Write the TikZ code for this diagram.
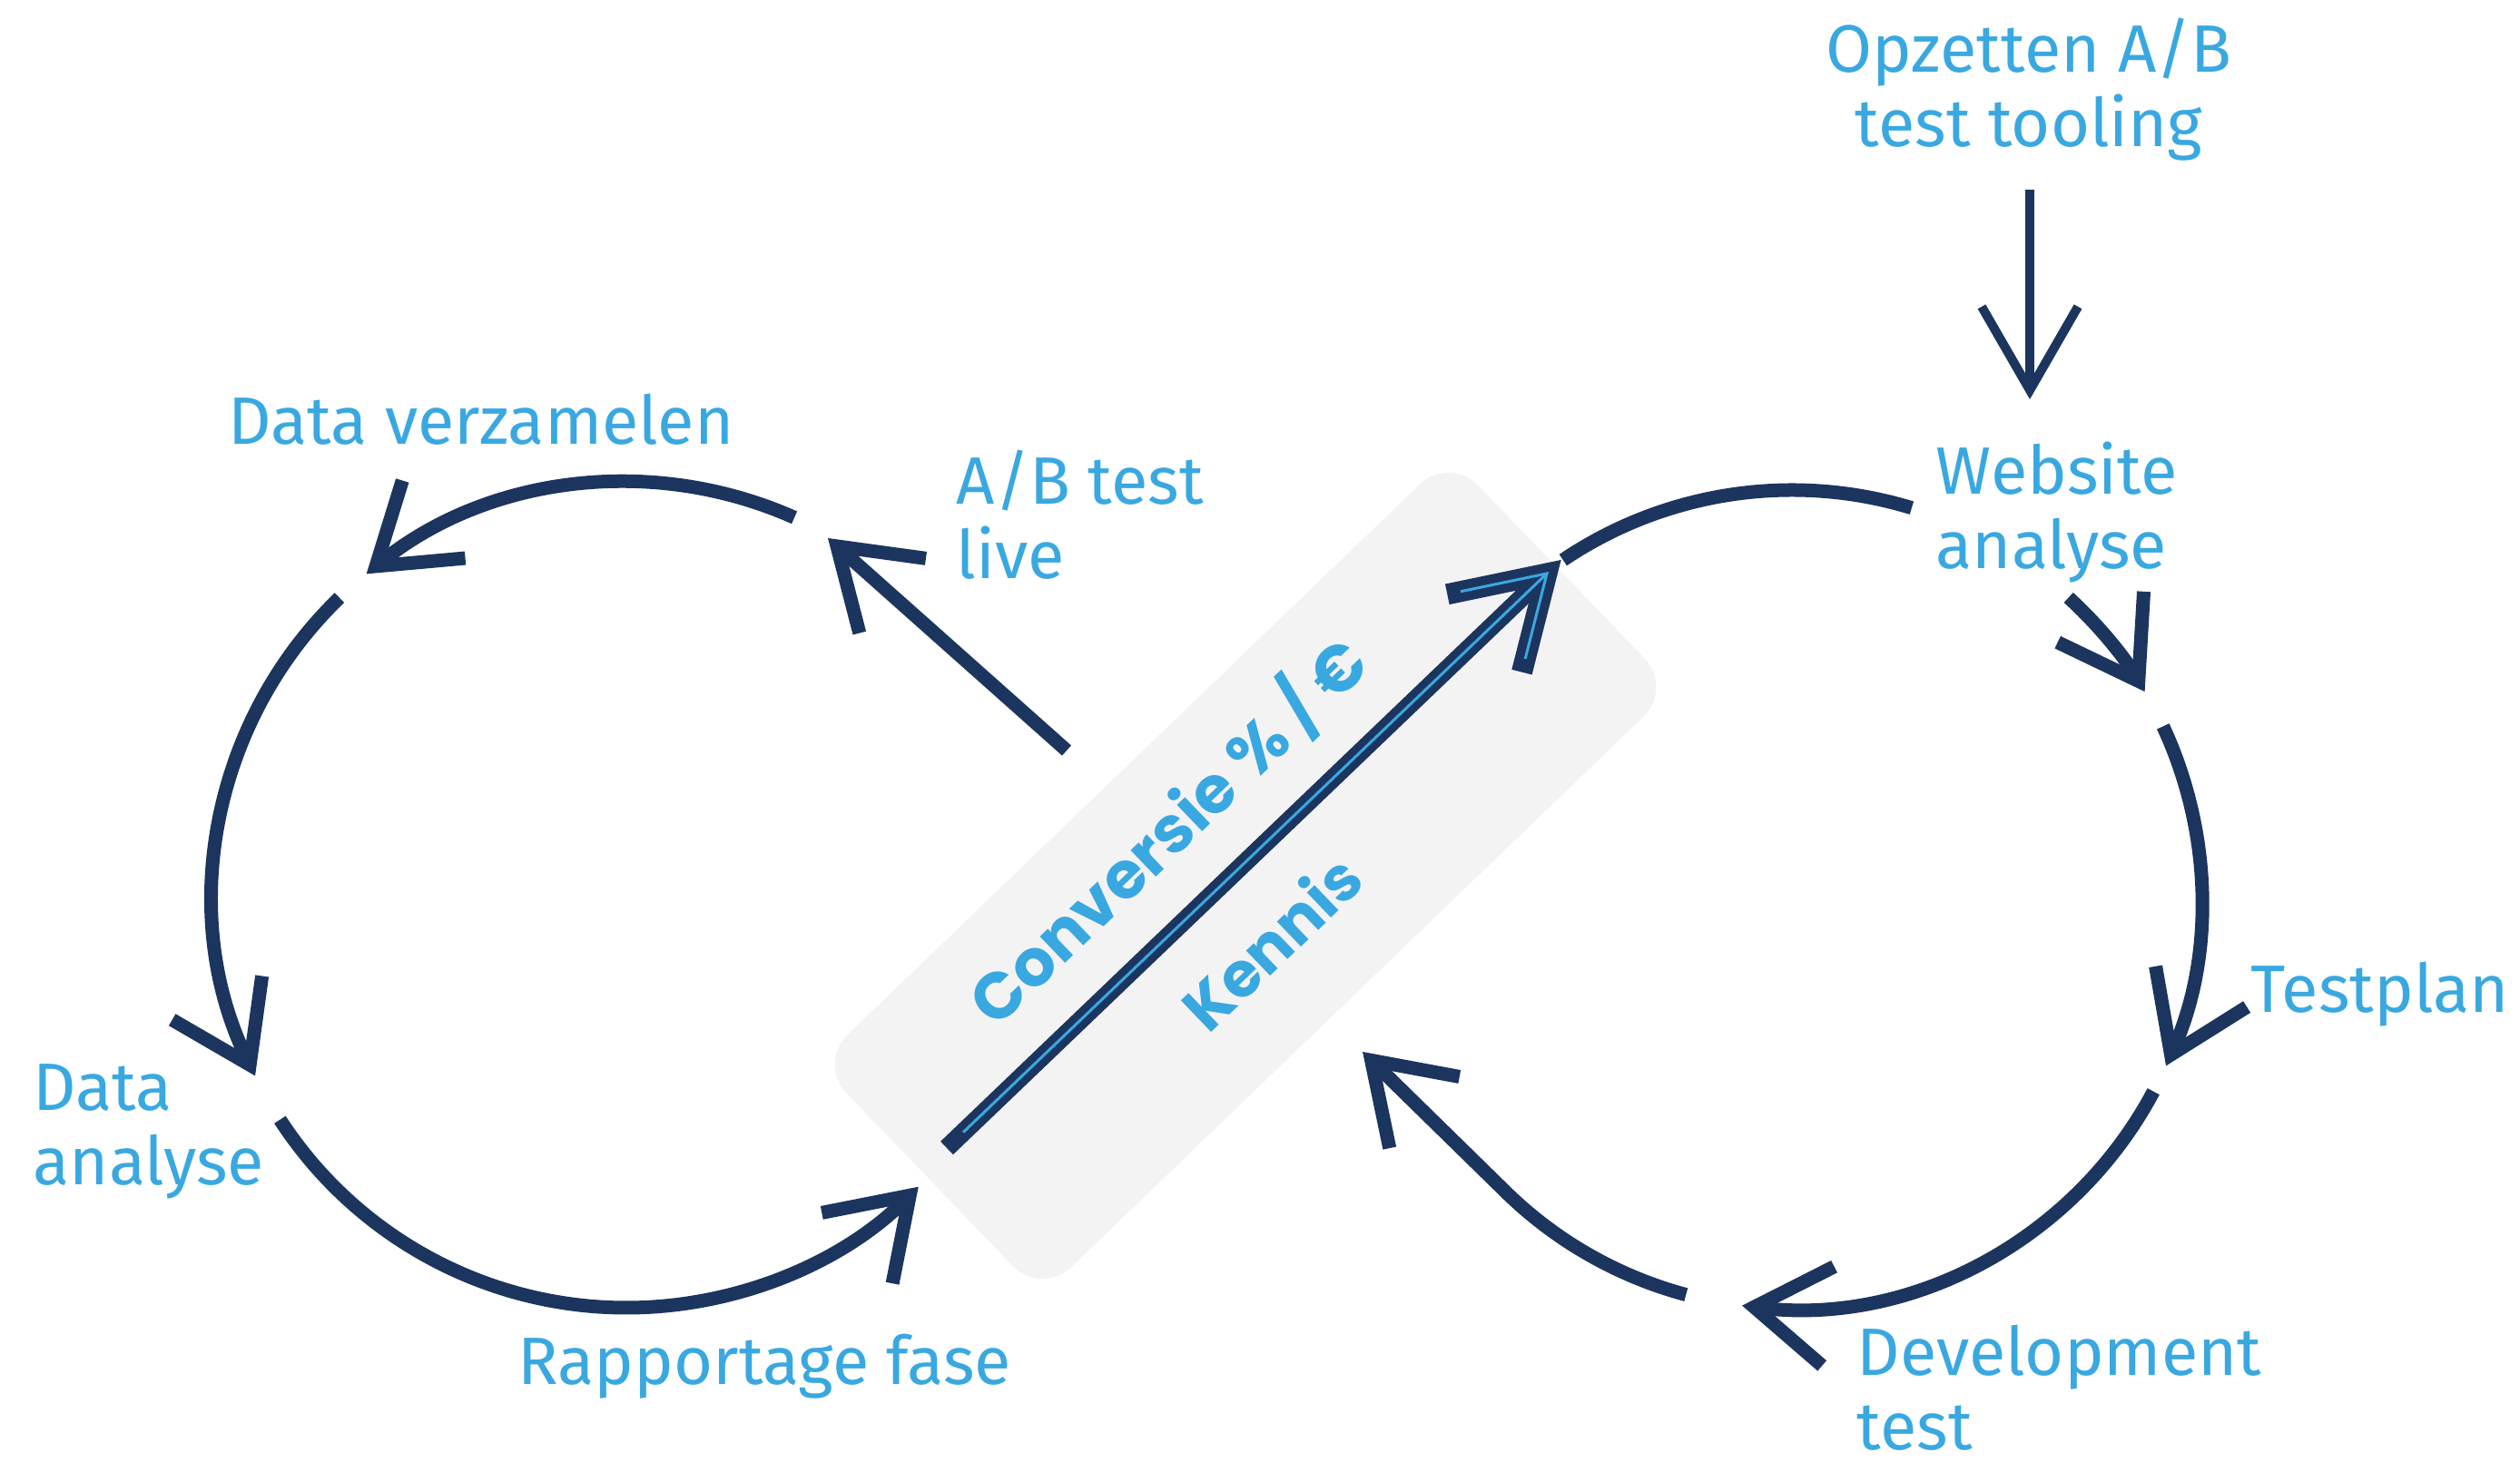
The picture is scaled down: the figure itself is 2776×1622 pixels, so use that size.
\documentclass[tikz,border=0pt]{standalone}
\usepackage{fontspec}
\setmainfont{Fira Sans}
\newfontfamily\popfont{Poppins}
\usetikzlibrary{arrows.meta,calc}
\definecolor{navy}{HTML}{1C355E}
\definecolor{sky}{HTML}{3AA8E0}
\definecolor{boxgray}{HTML}{F3F3F3}
\begin{document}
\begin{tikzpicture}[x=0.01cm,y=0.01cm,
  lbl/.style={text=sky, font=\fontsize{21}{23.5}\selectfont, inner sep=0pt, align=left},
  ctr/.style={text=sky, font=\popfont\bfseries\fontsize{20.5}{24}\selectfont, inner sep=0pt, rotate=43.8},
  flow/.style={draw=navy, line width=0.15cm, -{Straight Barb[length=0.82cm,width=1.1cm]}},
  thinflow/.style={draw=navy, line width=0.1cm, -{Straight Barb[length=0.92cm,width=1.06cm]}},
  plainarc/.style={draw=navy, line width=0.15cm},
]
\useasboundingbox (0,0) rectangle (2776,1622);
\fill[white] (0,0) rectangle (2776,1622);

% grey band
\node[rotate=43.9, fill=boxgray, rounded corners=0.45cm, minimum width=9.65cm, minimum height=3.55cm, inner sep=0pt] (band) at (1372,657) {};

% loop centres
\coordinate (L) at (690,636);
\coordinate (R) at (1974,631);

% left loop
\draw[flow] ([shift={(66:455)}]L) arc[start angle=66, end angle=129, radius=455];
\draw[flow] ([shift={(134:455)}]L) arc[start angle=134, end angle=206, radius=455];
\draw[flow] ([shift={(213:455)}]L) arc[start angle=213, end angle=315, radius=455];
\coordinate (abs) at (1175,795);
\coordinate (abt) at (912,1029);
\draw[flow] (abs) -- (abt);

% right loop
\draw[plainarc] ([shift={(124:451)}]R) arc[start angle=124, end angle=73, radius=451];
\draw[flow] ([shift={(47.5:451)}]R) arc[start angle=47.5, end angle=30.5, radius=451];
\draw[flow] ([shift={(25:451)}]R) arc[start angle=25, end angle=-24, radius=451];
\draw[flow] ([shift={(-28:451)}]R) arc[start angle=-28, end angle=-97, radius=451];
\coordinate (devtip) at (1501,463);
\draw[flow] ([shift={(-105:451)}]R) arc[start angle=-105, end angle=-135, radius=451] -- (devtip);

% top arrow
\coordinate (opzs) at (2236,1413);
\coordinate (opzt) at (2236,1182);
\draw[thinflow] (opzs) -- (opzt);

% central double arrow
\coordinate (cs) at (1043,357);
\coordinate (ct) at (1704,990);
\coordinate (cb1) at ($(ct)!1.12cm!32:(cs)$);
\coordinate (cb2) at ($(ct)!1.12cm!-32:(cs)$);
\draw[navy, line width=0.2cm] (cs) -- ($(ct)!0.05cm!(cs)$);
\draw[navy, line width=0.23cm, line join=miter] (cb1) -- (ct) -- (cb2);
\draw[sky, line width=0.03cm] ($(cs)!0.25cm!(ct)$) -- (ct);
\draw[sky, line width=0.03cm, line join=miter] ($(cb1)!0.15cm!(ct)$) -- (ct) -- ($(cb2)!0.15cm!(ct)$);

% labels
\node[lbl, anchor=base west] (dv) at (251,1132) {Data verzamelen};
\node[lbl, anchor=base west] (ab) at (1053,984) {A/B test\\live};
\node[lbl, anchor=base, align=center] (opz) at (2235,1460) {Opzetten A/B\\test tooling};
\node[lbl, anchor=base west] (web) at (2132,995) {Website\\analyse};
\node[lbl, anchor=base west] (tp) at (2479,506) {Testplan};
\node[lbl, anchor=base west] (dev) at (2045,24) {Development\\test};
\node[lbl, anchor=base west] (rap) at (570,96) {Rapportage fase};
\node[lbl, anchor=base west] (da) at (36,316) {Data\\analyse};

\node[ctr] (conv) at (1286,706) {Conversie \% / €};
\node[ctr, font=\popfont\bfseries\fontsize{19.5}{24}\selectfont] (ken) at (1400,584) {Kennis};
\end{tikzpicture}
\end{document}
